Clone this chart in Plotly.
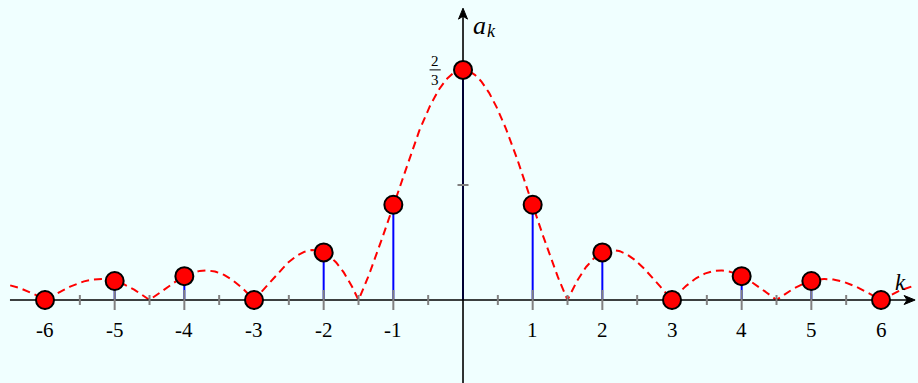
import numpy as np
import plotly.graph_objects as go

# Line spectrum a_k of a rectangular pulse train (duty cycle 2/3 -> zeros every 3rd line)
k_values = [-6, -5, -4, -3, -2, -1, 0, 1, 2, 3, 4, 5, 6]
a_values = [0.0, 0.055, 0.069, 0.0, 0.138, 0.276, 0.667, 0.276, 0.138, 0.0, 0.069, 0.055, 0.0]
tick_labels = ["-6", "-5", "-4", "-3", "-2", "-1", "", "1", "2", "3", "4", "5", "6"]

BG = "#F0FFFF"
SERIF = "Liberation Serif"

X_RANGE = [-6.646, 6.531]
Y_RANGE = [-0.2406, 0.8696]
PX_X = 1 / 69.67   # data units per pixel, horizontal
PX_Y = 1 / 345.0   # data units per pixel, vertical


def envelope(k):
    k = np.asarray(k, dtype=float)
    out = np.full_like(k, 2.0 / 3.0)
    nz = np.abs(k) > 1e-12
    out[nz] = np.abs(np.sin(2 * np.pi * k[nz] / 3) / (np.pi * k[nz]))
    return out


fig = go.Figure()

# dashed envelope |sin(2πk/3) / (πk)|
kk = np.linspace(-6.5, 6.5, 1301)
fig.add_trace(go.Scatter(x=kk, y=envelope(kk), mode="lines",
                         line=dict(color="#FF0000", width=2, dash="8px,5px"),
                         hoverinfo="skip"))

# blue stems
sx, sy = [], []
for k, a in zip(k_values, a_values):
    if a > 0:
        sx += [k, k, None]
        sy += [0, a, None]
fig.add_trace(go.Scatter(x=sx, y=sy, mode="lines",
                         line=dict(color="#0000FF", width=2), hoverinfo="skip"))

# x axis line and y axis line
X_TIP, Y_TIP = 6.49, 0.846
fig.add_trace(go.Scatter(x=[-6.503, X_TIP - 6 * PX_X], y=[0, 0], mode="lines",
                         line=dict(color="black", width=1.6), hoverinfo="skip"))
fig.add_trace(go.Scatter(x=[0, 0], y=[Y_RANGE[0] - 0.05, Y_TIP - 6 * PX_Y], mode="lines",
                         line=dict(color="black", width=1.6), hoverinfo="skip"))

# gray ticks: long at integers, short at half-integers, one on the y axis at 1/3
tx, ty = [], []
for i in range(-12, 13):
    h = i / 2
    if h == 0:
        continue
    half = 0.029 if i % 2 == 0 else 0.0145
    tx += [h, h, None]
    ty += [-half, half, None]
tx += [-0.079, 0.079, None]
ty += [1 / 3, 1 / 3, None]
fig.add_trace(go.Scatter(x=tx, y=ty, mode="lines",
                         line=dict(color="#808080", width=2), hoverinfo="skip"))

# coefficient markers
fig.add_trace(go.Scatter(x=k_values, y=a_values, mode="markers",
                         marker=dict(size=18, color="#FF0000",
                                     line=dict(color="black", width=2)),
                         hoverinfo="skip"))

# arrowheads at the axis ends
L, W, N = 11, 4.5, 8  # length, half-width, notch depth in pixels
fig.add_shape(type="path", xref="x", yref="y",
              path=(f"M {X_TIP},0 L {X_TIP - L * PX_X},{W * PX_Y} "
                    f"L {X_TIP - N * PX_X},0 L {X_TIP - L * PX_X},{-W * PX_Y} Z"),
              fillcolor="black", line=dict(color="black", width=1))
fig.add_shape(type="path", xref="x", yref="y",
              path=(f"M 0,{Y_TIP} L {W * PX_X},{Y_TIP - L * PX_Y} "
                    f"L 0,{Y_TIP - N * PX_Y} L {-W * PX_X},{Y_TIP - L * PX_Y} Z"),
              fillcolor="black", line=dict(color="black", width=1))

annotations = []
# tick labels
for k, lab in zip(k_values, tick_labels):
    if lab:
        annotations.append(dict(x=k, y=-0.087, xref="x", yref="y", text=lab,
                                showarrow=False,
                                font=dict(family=SERIF, size=21, color="black")))

# axis names: a with subscript k, and k at the end of the horizontal axis
annotations.append(dict(x=0.24, y=0.797, xref="x", yref="y", text="a",
                        showarrow=False,
                        font=dict(family=SERIF, size=26, style="italic", color="black")))
annotations.append(dict(x=0.415, y=0.78, xref="x", yref="y", text="k",
                        showarrow=False,
                        font=dict(family=SERIF, size=18, style="italic", color="black")))
annotations.append(dict(x=6.28, y=0.05, xref="x", yref="y", text="k",
                        showarrow=False,
                        font=dict(family=SERIF, size=23, style="italic", color="black")))

# the value 2/3 written as a stacked fraction
annotations.append(dict(x=-0.4, y=0.693, xref="x", yref="y", text="2",
                        showarrow=False, font=dict(family=SERIF, size=15, color="black")))
annotations.append(dict(x=-0.4, y=0.638, xref="x", yref="y", text="3",
                        showarrow=False, font=dict(family=SERIF, size=15, color="black")))

fig.add_shape(type="line", x0=-0.48, x1=-0.32, y0=0.667, y1=0.667,
              xref="x", yref="y", line=dict(color="black", width=1))

fig.update_layout(
    width=918, height=383,
    margin=dict(l=0, r=0, t=0, b=0),
    paper_bgcolor=BG, plot_bgcolor=BG,
    showlegend=False,
    annotations=annotations,
    xaxis=dict(range=X_RANGE, visible=False, fixedrange=True),
    yaxis=dict(range=Y_RANGE, visible=False, fixedrange=True),
)

fig.write_html("out.html")
